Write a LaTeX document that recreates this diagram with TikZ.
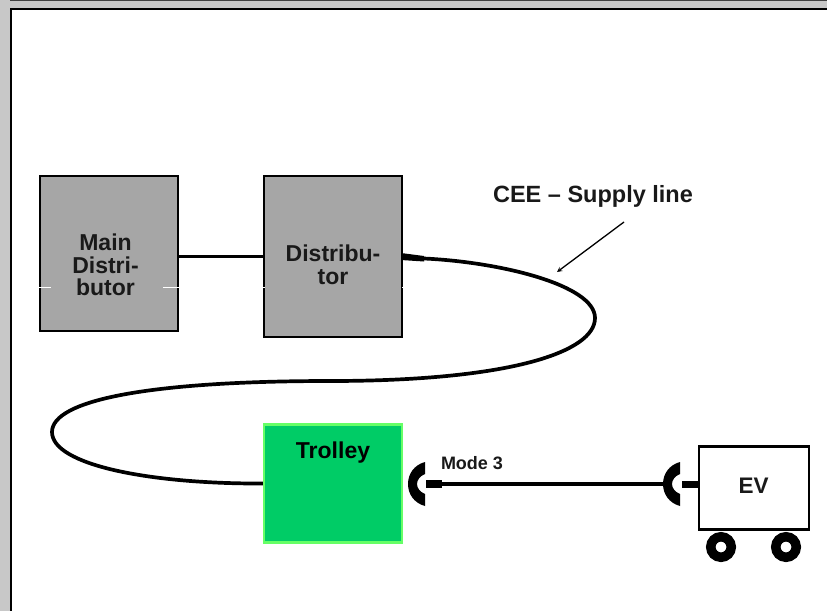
\documentclass[tikz,border=0pt]{standalone}
\usepackage{fontspec}
\setmainfont{Liberation Sans}
\usepackage{tikz}
\usetikzlibrary{arrows, positioning}
\definecolor{panel}{HTML}{C8C8C8}
\definecolor{boxgray}{HTML}{A6A6A6}
\definecolor{trolleygreen}{HTML}{00CC66}
\definecolor{trolleyedge}{HTML}{66FF66}

\begin{document}
\begin{tikzpicture}[x=1pt, y=-1pt, auto, node distance=84pt, thick,
    box node/.style={rectangle, draw, line width=2.4pt, inner sep=0pt},
    gray node/.style={box node, fill=boxgray, minimum width=138.5pt},
    wheel node/.style={circle, draw, line width=9.5pt, minimum size=20.5pt, inner sep=0pt},
    text node/.style={draw=none, inner sep=0pt, align=center, text=black!90, font=\bfseries\fontsize{23}{22.5}\selectfont},
    cable/.style={line width=3.7pt}]
\useasboundingbox (0,0) rectangle (827,611);
\fill[panel] (0,0) rectangle (827,611);
\draw[line width=1.5pt, black!75] (10,0.5) -- (827,0.5);
\fill[white] (11,9) rectangle (827,611);
\draw[line width=2.6pt] (827,9) -- (11,9) -- (11,611);
\node[gray node, minimum height=155.5pt](main) at (109,253.5){};
\node[gray node, minimum height=161.5pt](dist) at (333,256.5){};
\node[box node, fill=trolleygreen, draw=trolleyedge, minimum width=138pt, minimum height=118pt](trolley) at (333,483.5){};
\node[box node, fill=white, minimum width=110pt, minimum height=83pt](ev) at (754,488){};
\node[text node](maintext) at (105.5,265){Main\\Distri-\\butor};
\node[text node](disttext) at (333,265){Distribu-\\tor};
\node[text node, text=black](trolleytext) at (333,453){Trolley};
\node[text node, font=\bfseries\fontsize{22.5}{22.5}\selectfont](evtext) at (753.5,486){EV};
\node[wheel node](wheel1) at (721,547){};
\node[wheel node, node distance=65pt, right of=wheel1](wheel2){};
\node[text node, font=\bfseries\fontsize{23.5}{23.5}\selectfont](cee) at (593,196){CEE -- Supply line};
\node[text node, font=\bfseries\fontsize{18}{18}\selectfont](mode) at (472,463.5){Mode 3};
% white ticks
\foreach \a/\b in {38/51, 163/180, 262/265, 402/405}{
    \draw[white, line width=.8pt] (\a,287) -- (\b,287);}
\draw[cable] (main.east |- dist) -- (dist);
% supply line
\coordinate (sleeve) at (424,258.5);
\fill (401,253) -- (424,256) -- (424,261.5) -- (401,260) -- cycle;
\draw[cable] (sleeve) .. controls (500,262) and (595,285) .. (595,318)
    .. controls (595,352) and (510,381) .. (330,381)
    .. controls (150,381) and (52,400) .. (52,432)
    .. controls (52,465) and (150,484) .. (trolley.west);
\coordinate (ceetail) at (624,222);
\coordinate (ceehead) at (557,272);
\draw[-stealth, line width=1.3pt] (ceetail) -- (ceehead);
% sockets and plugs
\foreach \s/\x in {a/425, b/680}{
    \coordinate (socket\s) at (\x,484);
    \fill (\x,462) .. controls (\x-11,465) and (\x-17,474) .. (\x-17,484)
        .. controls (\x-17,494) and (\x-11,503) .. (\x,506)
        -- (\x,494) .. controls (\x-5,492) and (\x-8,488) .. (\x-8,484)
        .. controls (\x-8,480) and (\x-5,476) .. (\x,474) -- cycle;}
\coordinate (pluga) at (426,484);
\coordinate (plugb) at (442,484);
\draw[line width=8pt] (pluga) -- (plugb);
\coordinate (linkend) at (665,484);
\draw[cable] (plugb) -- (linkend);
\coordinate (plugc) at (682,484);
\draw[line width=7pt] (plugc) -- (plugc -| ev.west);
\end{tikzpicture}
\end{document}
